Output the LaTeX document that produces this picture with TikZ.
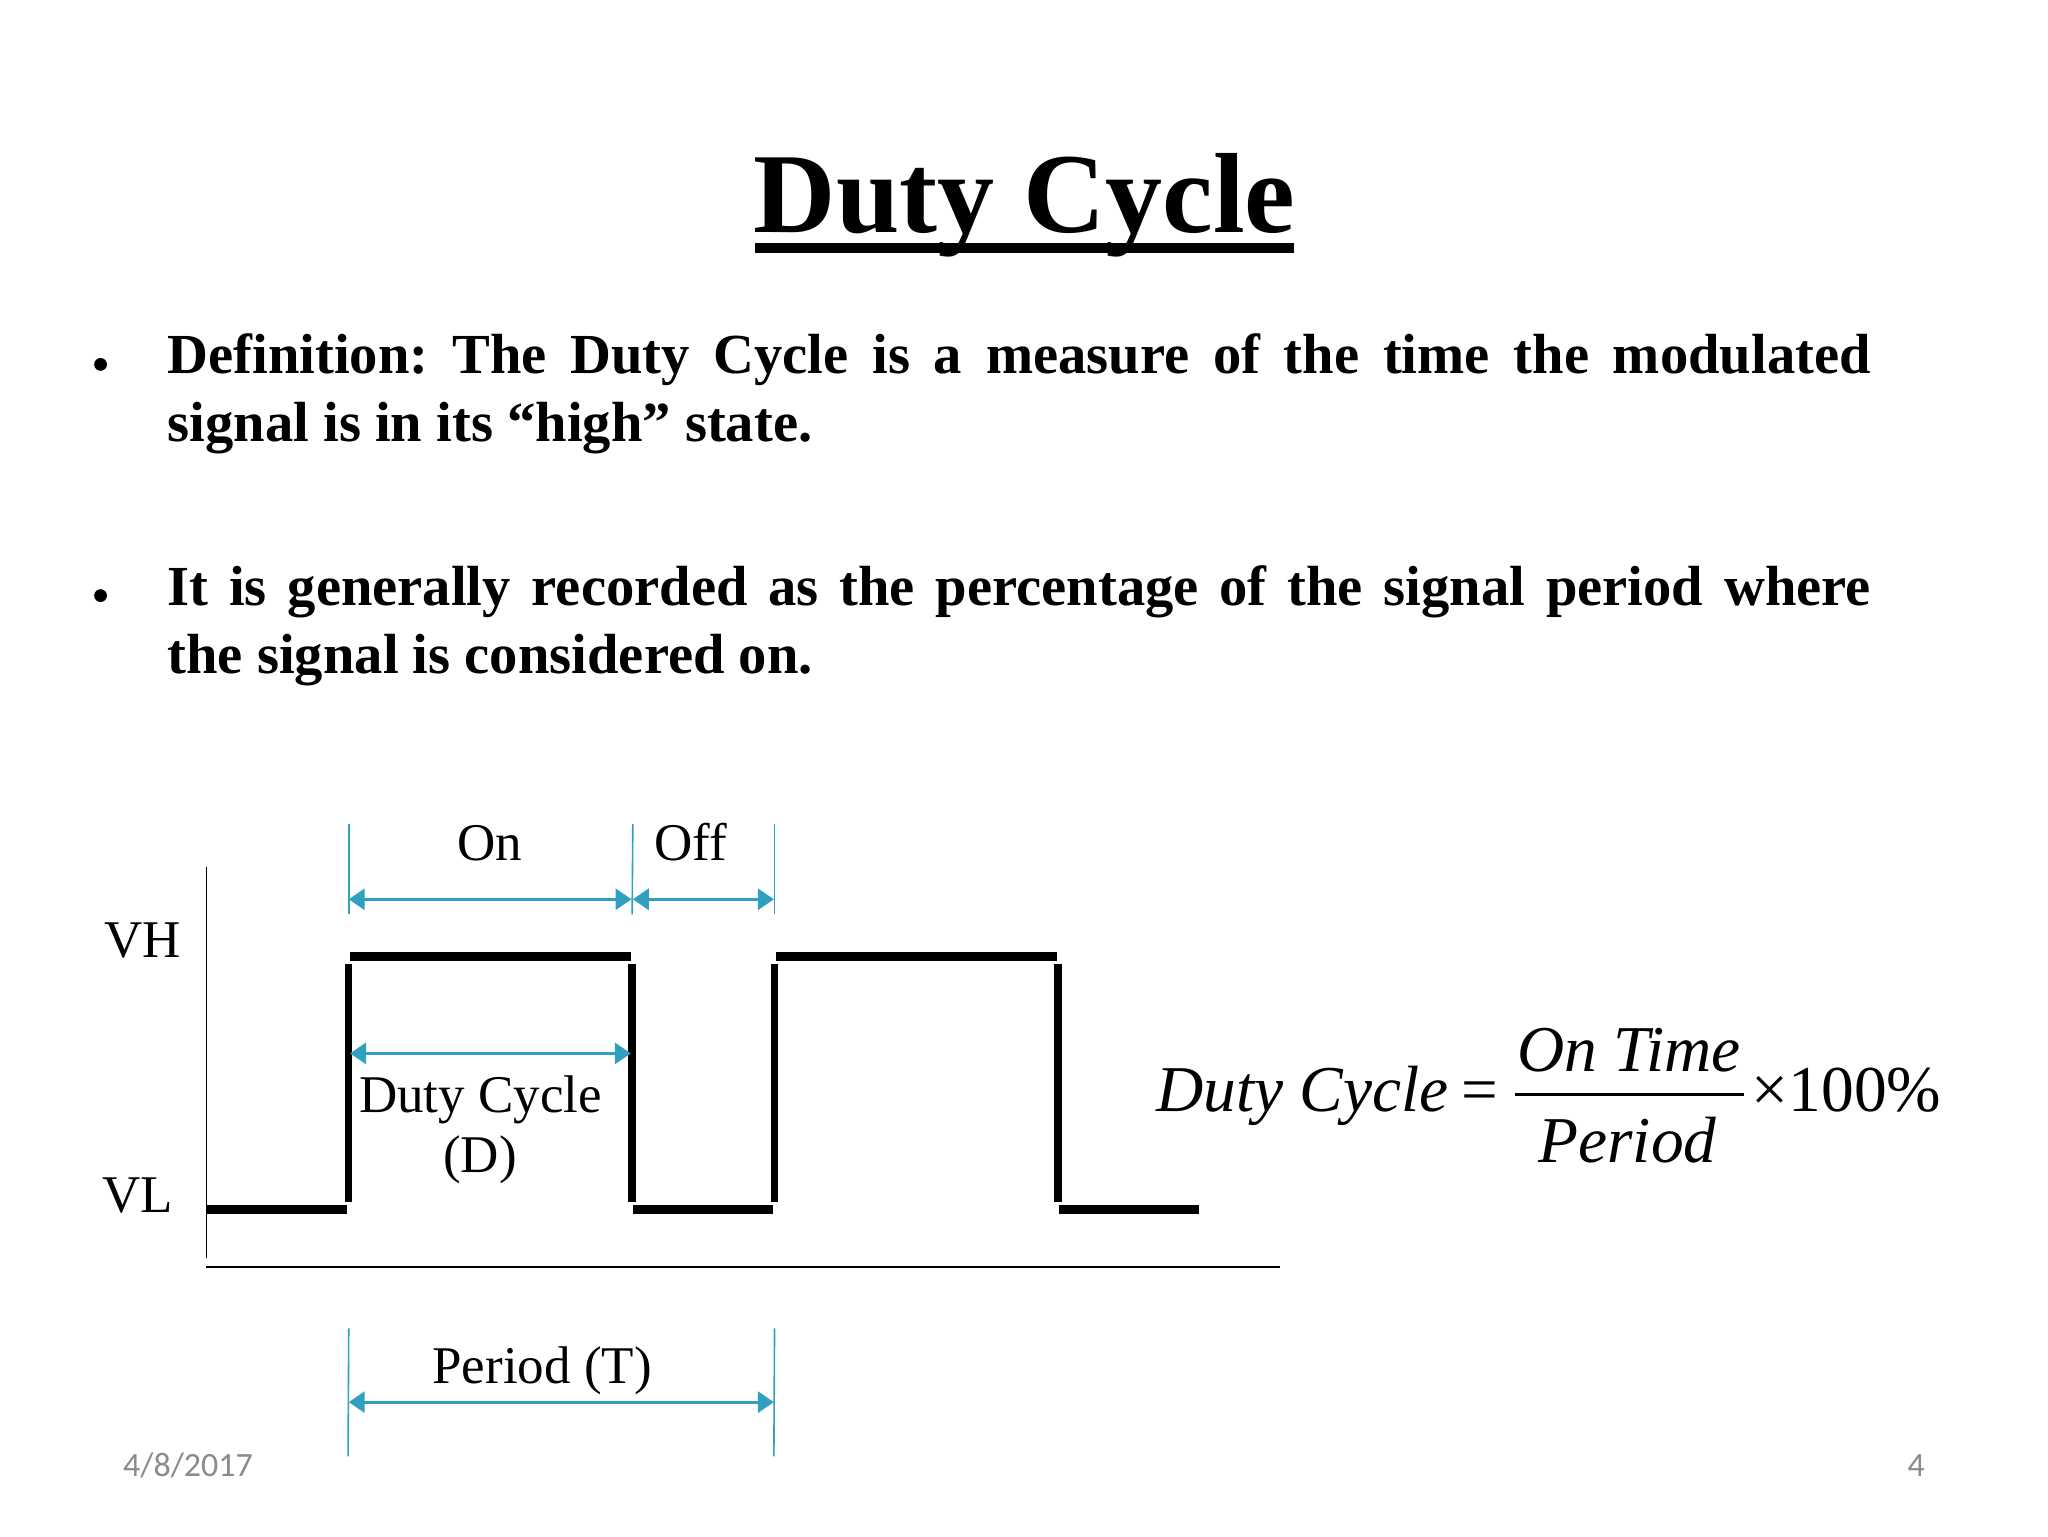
\documentclass[tikz,border=0pt]{standalone}
\usepackage{fontspec}
\setmainfont{Liberation Serif}
\newfontfamily\footfont{Carlito}
\usetikzlibrary{arrows.meta,positioning}
\definecolor{dimblue}{RGB}{47,160,191}
\definecolor{footgrey}{RGB}{139,139,139}

\begin{document}
\frenchspacing
\begin{tikzpicture}[
        x=0.65306pt, y=-0.65306pt,
        lbl/.style={anchor=base, inner sep=0pt, font=\fontsize{26.5}{30}\selectfont},
        fml/.style={anchor=base, inner sep=0pt, font=\fontsize{32.7}{36}\selectfont\itshape},
        foot/.style={inner sep=0pt, text=footgrey, font=\footfont\fontsize{17}{20}\selectfont},
        para/.style={anchor=north west, inner sep=0pt, text width=851.6pt, align=justify,
            font=\fontsize{28.3}{34}\selectfont\bfseries},
        dot/.style={circle, fill=black, inner sep=0pt, minimum size=6.4pt},
        level/.style={line width=4.5pt},
        edge/.style={line width=3.7pt},
        axis/.style={line width=0.7pt},
        tick/.style={draw=dimblue, line width=0.8pt},
        dim/.style={draw=dimblue, line width=1.5pt,
            {Triangle[length=8pt,width=10.5pt]}-{Triangle[length=8pt,width=10.5pt]}}
    ]
        \useasboundingbox (0,0) rectangle (1568,1176);

        % Heading
        \node[anchor=base, inner sep=0pt, font=\fontsize{57}{60}\selectfont\bfseries] (title) at (784.5,178) {Duty Cycle};
        \coordinate (ulA) at (578,189.5);
        \coordinate (ulB) at (991,189.5);
        \draw[line width=5pt] (ulA) -- (ulB);

        % Bullets
        \node[dot] (dotA) at (77,279) {};
        \node[para] (defn) at (128,255.5) {Definition: The Duty Cycle is a measure of the time the modulated\linebreak signal is in its “high” state.};
        \node[dot] (dotB) at (77,456) {};
        \node[para] (recd) at (128,432.5) {It is generally recorded as the percentage of the signal period where\linebreak the signal is considered on.};

        % Axes
        \coordinate (origV) at (158,963);
        \coordinate (topV) at (158,664);
        \coordinate (origH) at (158,970);
        \coordinate (endH) at (980,970);
        \draw[axis] (topV) -- (origV);
        \draw[axis] (origH) -- (endH);
        \node[lbl] (vh) at (109,733) {VH};
        \node[lbl] (vl) at (105.5,928) {VL};

        % Waveform
        \foreach \xa/\xb in {158/266, 485/592, 811/918}
            \draw[level] (\xa,926) -- (\xb,926);
        \foreach \xa/\xb in {268/483, 594/809}
            \draw[level] (\xa,732.5) -- (\xb,732.5);
        \foreach \xe in {267, 484, 593, 810}
            \draw[edge] (\xe,738) -- (\xe,920);

        % Dimension marks
        \coordinate (onTopA) at (267,631);
        \coordinate (onLowA) at (267,700);
        \coordinate (onTopB) at (484.5,631);
        \coordinate (onLowB) at (484,700);
        \coordinate (offTop) at (593,631);
        \coordinate (offLow) at (593,700);
        \draw[tick] (onTopA) -- (onLowA);
        \draw[tick] (onTopB) -- (onLowB);
        \draw[tick] (offTop) -- (offLow);
        \coordinate (onA) at (267,688.5);
        \coordinate (onB) at (483.5,688.5);
        \coordinate (offA) at (484.5,688.5);
        \coordinate (offB) at (592.5,688.5);
        \draw[dim] (onA) -- (onB);
        \draw[dim] (offA) -- (offB);
        \node[lbl] (on) at (375,659) {On};
        \node[lbl] (off) at (529,659) {Off};

        \coordinate (dcA) at (268,806.5);
        \coordinate (dcB) at (483,806.5);
        \draw[dim] (dcA) -- (dcB);
        \node[lbl] (dc) at (368,852) {Duty Cycle};
        \node[lbl] (dcD) at (367.5,898) {(D)};

        \coordinate (perTopA) at (267,1017);
        \coordinate (perLowA) at (266.5,1115);
        \coordinate (perTopB) at (593,1017);
        \coordinate (perLowB) at (592.5,1115);
        \draw[tick] (perTopA) -- (perLowA);
        \draw[tick] (perTopB) -- (perLowB);
        \coordinate (perA) at (267,1073.5);
        \coordinate (perB) at (592.5,1073.5);
        \draw[dim] (perA) -- (perB);
        \node[lbl] (per) at (415,1059) {Period (T)};

        % Formula
        \node[fml, anchor=base west] (lhs) at (885,851) {Duty Cycle};
        \node[fml, font=\fontsize{32.5}{36}\selectfont] (eq) at (1133,851) {=};
        \node[fml] (num) at (1247,820) {On Time};
        \node[fml] (den) at (1246,890) {Period};
        \coordinate (barA) at (1160,838);
        \coordinate (barB) at (1335,838);
        \draw[line width=1.1pt] (barA) -- (barB);
        \node[fml, anchor=base west, font=\fontsize{32.7}{36}\selectfont] (pct) at (1341,851) {×100\%};

        % Footer
        \node[foot, anchor=west] (date) at (94,1122) {4/8/2017};
        \node[foot, anchor=east] (page) at (1474,1122) {4};
    \end{tikzpicture}
\end{document}
